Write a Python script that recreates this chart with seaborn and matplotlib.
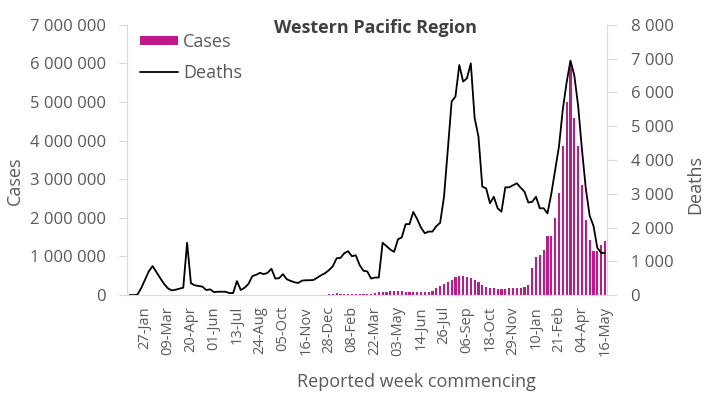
"""Western Pacific Region: weekly COVID-19 cases (bars) and deaths (line)."""
import numpy as np
import pandas as pd
import matplotlib
matplotlib.use('Agg')
import matplotlib.pyplot as plt
import seaborn as sns
from matplotlib.ticker import FuncFormatter
from matplotlib.patches import Patch
from matplotlib.lines import Line2D

# weekly series, week commencing 30-Dec-2019 .. 16-May-2022
weeks = pd.date_range('2019-12-30', periods=125, freq='7D')

cases = [
    0, 100, 800, 3000, 4500, 5000, 4000, 2500, 1500, 1000,
    1200, 2500, 3500, 4500, 4000, 3500, 3000, 2500, 2000, 1800,
    1500, 1300, 1300, 1600, 2000, 2500, 3000, 3500, 4000, 4500,
    5000, 5500, 6000, 6000, 5800, 5500, 5000, 4800, 4500, 4300,
    4200, 4200, 4500, 5000, 5500, 6000, 7000, 8000, 9000, 10000,
    12000, 15000, 20000, 30000, 45000, 40000, 35000, 30000, 25000, 22000,
    20000, 24000, 30000, 40000, 55000, 75000, 85000, 92000, 98000, 95000,
    100000, 96000, 92000, 88000, 86000, 78000, 70000, 74000, 85000, 110000,
    175000, 230000, 290000, 350000, 400000, 460000, 495000, 495000, 480000, 440000,
    390000, 330000, 270000, 220000, 190000, 175000, 160000, 150000, 155000, 175000,
    185000, 190000, 190000, 200000, 260000, 690000, 990000, 1040000, 1170000, 1540000,
    1540000, 1990000, 2640000, 3850000, 5000000, 6000000, 4580000, 3850000, 2850000, 1940000,
    1430000, 1150000, 1150000, 1300000, 1410000,
]

deaths = [
    0, 0, 10, 200, 450, 700, 860, 680, 500, 330,
    200, 140, 160, 190, 220, 1550, 350, 290, 270, 250,
    150, 170, 90, 100, 100, 100, 60, 60, 415, 150,
    220, 330, 560, 600, 660, 620, 660, 780, 490, 500,
    620, 470, 420, 380, 360, 430, 440, 440, 450, 520,
    590, 650, 740, 850, 1090, 1100, 1240, 1300, 1150, 1180,
    890, 720, 700, 490, 520, 520, 1550, 1450, 1350, 1280,
    1650, 1710, 2100, 2100, 2460, 2250, 2000, 1830, 1880, 1880,
    2040, 2140, 2900, 4300, 5730, 5880, 6810, 6320, 6420, 6860,
    5240, 4690, 3210, 3160, 2720, 2910, 2570, 2470, 3190, 3190,
    3250, 3310, 3180, 3060, 2740, 2760, 2910, 2570, 2570, 2420,
    3000, 3700, 4400, 5500, 6300, 6940, 6500, 5600, 4300, 3150,
    2350, 2050, 1400, 1250, 1250,
]

CASE_COLOR = '#BE1A8C'
GREY = '#595959'
AXIS_GREY = '#d9d9d9'


def spaced(v, pos):
    return f"{int(round(v)):,}".replace(',', ' ')


sns.set_style('white')
plt.rcParams['font.family'] = ['Open Sans', 'DejaVu Sans']

df = pd.DataFrame({'week': np.arange(len(weeks)), 'cases': cases, 'deaths': deaths})
tick_labels = [d.strftime('%d-%b') if (i - 4) % 6 == 0 and i >= 4 else ''
               for i, d in enumerate(weeks)]

fig = plt.figure(figsize=(7.09, 3.94), dpi=100)
ax = fig.add_axes([0.179, 0.251, 0.677, 0.686])

sns.barplot(data=df, x='week', y='cases', color=CASE_COLOR, saturation=1,
            width=0.55, linewidth=0, edgecolor='none', ax=ax)
ax2 = ax.twinx()
sns.lineplot(data=df, x='week', y='deaths', color='black', lw=1.3, ax=ax2)

ax.set_xlim(-0.7, 124.5)
ax.set_ylim(0, 7e6)
ax2.set_ylim(0, 8000)
ax.set_yticks(np.arange(0, 7e6 + 1, 1e6))
ax2.set_yticks(np.arange(0, 8001, 1000))
ax.yaxis.set_major_formatter(FuncFormatter(spaced))
ax2.yaxis.set_major_formatter(FuncFormatter(spaced))

ax.set_xticks(range(len(weeks)))
ax.set_xticklabels(tick_labels)
ax.tick_params(axis='x', length=5, color=AXIS_GREY, rotation=90,
               labelsize=10.5, labelcolor=GREY, pad=3)
ax.tick_params(axis='y', length=6, color=AXIS_GREY, labelsize=12,
               labelcolor=GREY, pad=9)
ax2.tick_params(axis='y', length=7, color=AXIS_GREY, labelsize=12,
                labelcolor=GREY, pad=10)

for s in ['top', 'right']:
    ax.spines[s].set_visible(False)
for s in ['top', 'left', 'bottom']:
    ax2.spines[s].set_visible(False)
ax.spines['left'].set_color(AXIS_GREY)
ax.spines['bottom'].set_color(AXIS_GREY)
ax2.spines['right'].set_color(AXIS_GREY)

ax.set_ylabel('Cases', fontsize=13, color=GREY)
ax.yaxis.set_label_coords(-0.215, 0.422)
ax2.set_ylabel('Deaths', fontsize=13, color=GREY)
ax2.yaxis.set_label_coords(1.165, 0.411)
ax.set_xlabel('Reported week commencing', fontsize=13, color=GREY)
ax.xaxis.set_label_coords(0.604, -0.289)

fig.text(376 / 709, 1 - 28 / 394, 'Western Pacific Region', ha='center',
         va='center', fontsize=13, weight='bold', color='#404040')

handles = [Patch(facecolor=CASE_COLOR, edgecolor='none'),
           Line2D([], [], color='black', lw=1.3)]
ax2.legend(handles, ['Cases', 'Deaths'], loc='upper left',
           bbox_to_anchor=(0.027, 0.97), frameon=False, fontsize=13,
           handlelength=2.1, handleheight=0.45, handletextpad=0.3,
           labelspacing=0.7, borderpad=0, borderaxespad=0, labelcolor=GREY)

fig.savefig('out.png', dpi=100)
